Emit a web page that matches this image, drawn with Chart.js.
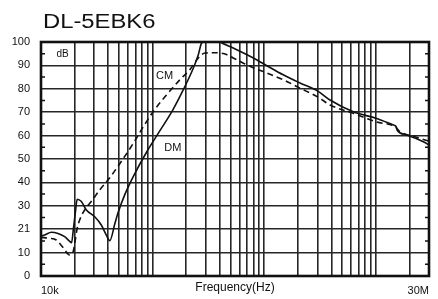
<!DOCTYPE html>
<html>
<head>
<meta charset="utf-8">
<script src="https://cdn.jsdelivr.net/npm/chart.js@4.4.0/dist/chart.umd.min.js"></script>
<style>
  html, body { margin: 0; padding: 0; background: #fff; }
</style>
</head>
<body>
<canvas id="filterChart" width="438" height="299"></canvas>
<script>
// chart title and axis texts
const chartTitle = "DL-5EBK6";
const xAxisTitle = "Frequency(Hz)";

// x axis: log grid lines and the two labelled ends
const xGridValues = [
  10000, 20000, 30000, 40000, 50000, 60000, 70000, 80000, 90000,
  100000, 200000, 300000, 400000, 500000, 600000, 700000, 800000, 900000,
  1000000, 2000000, 3000000, 4000000, 5000000, 6000000, 7000000, 8000000, 9000000,
  10000000, 20000000, 30000000
];
const xTickLabels = { 10000: "10k", 30000000: "30M" };

// y axis ticks (the picture labels the 20 dB line "21")
const yTickValues = [0, 10, 20, 30, 40, 50, 60, 70, 80, 90, 100];
const yTickLabels = ["0", "10", "21", "30", "40", "50", "60", "70", "80", "90", "100"];
const yMinorTicks = [5, 15, 25, 35, 45, 55, 65, 75, 85, 95];

// DM (solid) curve, Hz / dB
const dmFreq = [
  10000, 10800, 12400, 14200, 16300, 18100, 18800, 19500, 20300, 21100,
  23000, 25500, 30300, 34700, 38500, 41300, 46000, 49000, 56600, 67100,
  88500, 116000, 152000, 188000, 232000, 257000, 275000, 286000, 340000, 402000,
  528000, 746000, 1020000, 1480000, 2090000, 3050000, 3890000, 6290000, 10200000, 14400000,
  15200000, 15600000, 18900000, 26700000, 30000000
];
const dmLevel = [
  17.0, 17.5, 18.7, 18.2, 16.8, 14.8, 14.2, 20.0, 27.0, 32.8,
  31.8, 28.2, 25.3, 21.8, 17.5, 15.1, 22.5, 27.0, 35.0, 42.5,
  53.0, 62.0, 71.0, 79.5, 88.9, 94.6, 99.6, 100.0, 102.0, 100.0,
  97.4, 93.9, 90.3, 86.0, 82.5, 78.9, 75.2, 70.2, 67.3, 64.5,
  63.9, 62.2, 60.3, 57.4, 56.0
];

// CM (dashed) curve, Hz / dB
const cmFreq = [
  10000, 12000, 13700, 15700, 18100, 19400, 20300, 21100, 22200, 24600,
  28200, 33600, 39800, 51000, 67100, 82600, 101000, 134000, 176000, 216000,
  257000, 295000, 350000, 430000, 528000, 746000, 1050000, 1480000, 2090000, 3050000,
  3890000, 6290000, 10200000, 14900000, 16500000, 23200000, 27600000, 30000000
];
const cmLevel = [
  16.5, 16.1, 15.4, 12.3, 9.0, 10.4, 15.4, 20.4, 23.9, 28.2,
  31.8, 36.8, 41.0, 48.1, 56.7, 63.8, 70.2, 77.5, 83.9, 88.2,
  93.2, 95.3, 95.4, 95.1, 93.2, 89.6, 86.8, 83.9, 80.3, 76.4,
  73.1, 69.5, 65.8, 63.8, 61.7, 59.3, 58.1, 57.6
];

// text placed on the plot, in data coordinates
const plotNotes = [
  { text: "dB", f: 15600, db: 94.9, size: 10 },
  { text: "CM", f: 128000, db: 85.5, size: 11 },
  { text: "DM", f: 152000, db: 54.9, size: 11 }
];

const ink = "#111";
Chart.defaults.font.family = "'Liberation Sans', Arial, sans-serif";
Chart.defaults.color = ink;

const toPoints = (fs, vs) => fs.map((f, i) => ({ x: f, y: vs[i] }));

const framePlugin = {
  id: "frame",
  afterDatasetsDraw(chart) {
    const { ctx, chartArea: a, scales } = chart;
    const x = scales.x, y = scales.y;
    ctx.save();
    ctx.strokeStyle = ink;
    ctx.lineWidth = 1.5;
    yMinorTicks.forEach((v) => {
      const py = y.getPixelForValue(v);
      ctx.beginPath();
      ctx.moveTo(a.left, py); ctx.lineTo(a.left + 4, py);
      ctx.moveTo(a.right - 4, py); ctx.lineTo(a.right, py);
      ctx.stroke();
    });
    ctx.lineWidth = 2.6;
    ctx.strokeRect(a.left, a.top, a.right - a.left, a.bottom - a.top);

    ctx.fillStyle = ink;
    ctx.textAlign = "center";
    ctx.textBaseline = "middle";
    plotNotes.forEach((n) => {
      ctx.font = n.size + "px 'Liberation Sans', Arial, sans-serif";
      ctx.fillText(n.text, x.getPixelForValue(n.f), y.getPixelForValue(n.db));
    });

    // title, a little wider than the plain font as in the picture
    ctx.font = "20px 'Liberation Sans', Arial, sans-serif";
    ctx.textAlign = "left";
    ctx.textBaseline = "alphabetic";
    ctx.translate(43, 27.5);
    ctx.scale(1.19, 1);
    ctx.fillText(chartTitle, 0, 0);
    ctx.restore();
  }
};

new Chart(document.getElementById("filterChart"), {
  type: "line",
  data: {
    datasets: [
      {
        label: "DM",
        data: toPoints(dmFreq, dmLevel),
        borderColor: ink,
        borderWidth: 1.6,
        pointRadius: 0,
        cubicInterpolationMode: "monotone",
        fill: false
      },
      {
        label: "CM",
        data: toPoints(cmFreq, cmLevel),
        borderColor: ink,
        borderWidth: 1.6,
        borderDash: [6, 4],
        pointRadius: 0,
        cubicInterpolationMode: "monotone",
        fill: false
      }
    ]
  },
  options: {
    responsive: false,
    animation: false,
    layout: { padding: { top: 42, right: 9, left: 0, bottom: 0 } },
    plugins: {
      legend: { display: false },
      tooltip: { enabled: false }
    },
    scales: {
      x: {
        type: "logarithmic",
        min: 10000,
        max: 30000000,
        afterBuildTicks: (scale) => {
          scale.ticks = xGridValues.map((v) => ({ value: v }));
        },
        afterFit: (scale) => { scale.height = 23; },
        grid: { color: "#262626", lineWidth: 1.6, drawTicks: false },
        border: { display: false },
        ticks: {
          autoSkip: false,
          maxRotation: 0,
          align: "inner",
          padding: 8,
          font: { size: 11 },
          callback: (value) => xTickLabels[value] || ""
        },
        title: {
          display: true,
          text: xAxisTitle,
          font: { size: 12 },
          padding: { top: 0, bottom: 4 }
        }
      },
      y: {
        min: 0,
        max: 100,
        afterBuildTicks: (scale) => {
          scale.ticks = yTickValues.map((v) => ({ value: v }));
        },
        afterFit: (scale) => { scale.width = 41; },
        grid: { color: "#262626", lineWidth: 1.6, drawTicks: false },
        border: { display: false },
        ticks: {
          padding: 11,
          font: { size: 11 },
          callback: (value, index) => yTickLabels[index]
        }
      }
    }
  },
  plugins: [framePlugin]
});
</script>
</body>
</html>
